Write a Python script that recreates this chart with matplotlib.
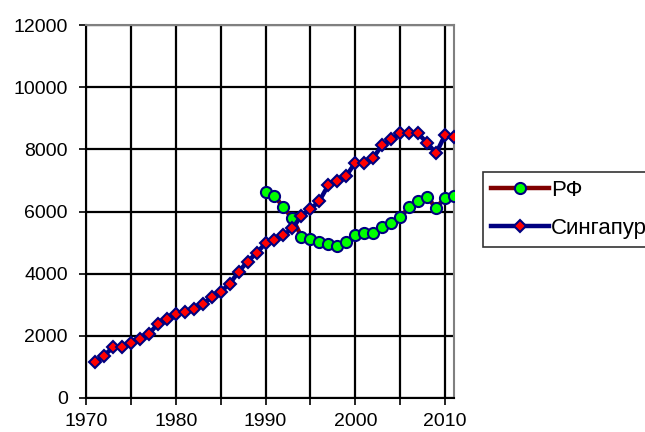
import matplotlib
matplotlib.use("Agg")
import matplotlib.pyplot as plt

plt.rcParams['font.family'] = ['Liberation Sans', 'DejaVu Sans']

years_sg = list(range(1971, 2012))
singapore = [1150, 1360, 1630, 1630, 1760, 1890, 2060, 2380, 2540, 2700,
             2780, 2850, 3020, 3240, 3420, 3670, 4060, 4390, 4660, 4980,
             5080, 5240, 5460, 5860, 6070, 6340, 6850, 6980, 7150, 7570,
             7550, 7730, 8140, 8320, 8520, 8520, 8510, 8210, 7870, 8460, 8390]

years_rf = list(range(1990, 2012))
rf = [6640, 6510, 6130, 5780, 5190, 5100, 5030, 4950, 4890, 5030,
      5240, 5300, 5300, 5490, 5620, 5810, 6130, 6340, 6460, 6120, 6440, 6510]

labels = ['РФ', 'Сингапур']

fig = plt.figure(figsize=(6.45, 4.32), dpi=100)
ax = fig.add_axes([86/645, 1-398/432, (454-86)/645, (398-25)/432])

ax.plot(years_rf, rf, color='#800000', lw=3.2, marker='o', markersize=8,
        markerfacecolor='#00FF00', markeredgecolor='#000080', markeredgewidth=1.5,
        label=labels[0], zorder=3)
ax.plot(years_sg, singapore, color='#000080', lw=3.2, marker='D', markersize=6.5,
        markerfacecolor='#FF0000', markeredgecolor='#000080', markeredgewidth=1.5,
        label=labels[1], zorder=4)

ax.set_xlim(1970, 2011)
ax.set_ylim(0, 12000)
ax.set_xticks(range(1970, 2011, 10))
ax.set_xticks(range(1970, 2011, 5), minor=True)
ax.set_yticks(range(0, 12001, 2000))
ax.grid(True, which='both', color='black', lw=1.6)
ax.set_axisbelow(True)
ax.tick_params(axis='both', which='both', direction='out', length=5, width=1.2,
               labelsize=14, color='black')
ax.tick_params(axis='y', which='major', pad=8)
ax.tick_params(axis='x', which='major', pad=6)
ax.tick_params(axis='y', which='minor', length=0)

for s in ['top', 'right']:
    ax.spines[s].set_color('#808080')
    ax.spines[s].set_linewidth(1.5)
for s in ['left', 'bottom']:
    ax.spines[s].set_color('black')
    ax.spines[s].set_linewidth(1.5)

leg = fig.legend(loc='upper left', bbox_to_anchor=(483/645, 1-172/432),
                 fontsize=16, frameon=True, fancybox=False, handlelength=2.6,
                 handletextpad=0.1, borderpad=0.36, labelspacing=0.75, borderaxespad=0)
leg.get_frame().set_edgecolor('black')
leg.get_frame().set_linewidth(1.2)

fig.savefig('out.png', dpi=100)
